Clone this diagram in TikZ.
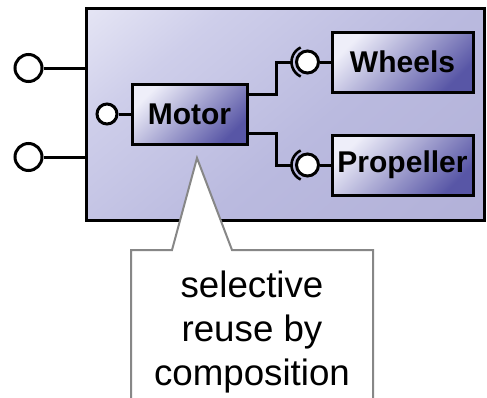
\documentclass[tikz,border=0pt]{standalone}
\usepackage{fontspec}
\setmainfont{Liberation Sans}
\definecolor{outerlight}{RGB}{252,252,255}
\definecolor{outerpale}{RGB}{206,206,234}
\definecolor{outermid}{RGB}{186,186,223}
\definecolor{outerdark}{RGB}{174,172,213}
\definecolor{innerlight}{RGB}{238,238,249}
\definecolor{innerdark}{RGB}{88,86,166}
\definecolor{noteline}{RGB}{135,135,135}
% lavender fill of the composite: pale only towards its upper left corner
\pgfdeclareverticalshading{outerfade}{100bp}{%
  color(0bp)=(outerdark); color(45bp)=(outermid); color(70bp)=(outerpale);
  color(100bp)=(outerlight)}
\tikzset{
  wire/.style={line width=3pt, black},
  container/.style={draw=black, line width=3pt, rectangle, inner sep=0,
    shading=outerfade, shading angle=40},
  part/.style={draw=black, line width=3pt, rectangle, inner sep=0,
    minimum height=60, top color=innerlight, bottom color=innerdark, shading angle=45,
    font=\fontsize{30}{36}\selectfont\bfseries},
  port/.style={circle, draw=black, line width=3pt, fill=white, inner sep=0},
  socket/.style={line width=2.6pt, black},
  note/.style={draw=noteline, line width=2pt, fill=white},
}
\begin{document}
\begin{tikzpicture}[x=1pt, y=-1pt]
  \clip (0,0) rectangle (487,397);

  % composite component
  \node[container, minimum width=398, minimum height=212] (outer) at (285,114) {};

  % external provided interfaces
  \node[port, minimum size=27] (p1) at (28.5,68) {};
  \node[port, minimum size=27] (p2) at (28.5,157) {};
  \draw[wire] (p1.east) -- (p1 -| outer.west);
  \draw[wire] (p2.east) -- (p2 -| outer.west);

  % inner parts
  \node[part, minimum width=115] (motor) at (189.5,114) {Motor};
  \node[part, minimum width=141] (wheels) at (402.5,62) {Wheels};
  \node[part, minimum width=141] (prop) at (402.5,165) {Propeller};

  % motor's own provided interface
  \node[port, minimum size=20] (mp) at (107,114) {};
  \draw[wire] (mp.east) -- (motor.west);

  % provided balls of the driven parts
  \node[port, minimum size=22] (wb) at (307.5,62) {};
  \node[port, minimum size=22] (pb) at (307.5,165) {};
  \draw[wire] (wb.east) -- (wheels.west);
  \draw[wire] (pb.east) -- (prop.west);

  % required sockets around the balls
  \draw[socket] ([shift={(115:16)}]wb.center) arc (115:245:16);
  \draw[socket] ([shift={(115:16)}]pb.center) arc (115:245:16);
  \coordinate (ws) at ([xshift=-16pt]wb.center);
  \coordinate (ps) at ([xshift=-16pt]pb.center);

  % motor to sockets
  \coordinate (mu) at (247,94);
  \coordinate (md) at (247,133);
  \draw[wire] (mu) -- (276,94) |- (ws);
  \draw[wire] (md) -- (276,133) |- (ps);

  % callout
  \draw[note] (131,420) -- (131,250) -- (172,250) -- (197,158) -- (232,250)
    -- (373,250) -- (373,420);
  \node[align=center, inner sep=0, anchor=base,
    font=\fontsize{36.7}{44}\selectfont] (txt) at (252,385)
    {selective\\reuse by\\composition};
\end{tikzpicture}
\end{document}
